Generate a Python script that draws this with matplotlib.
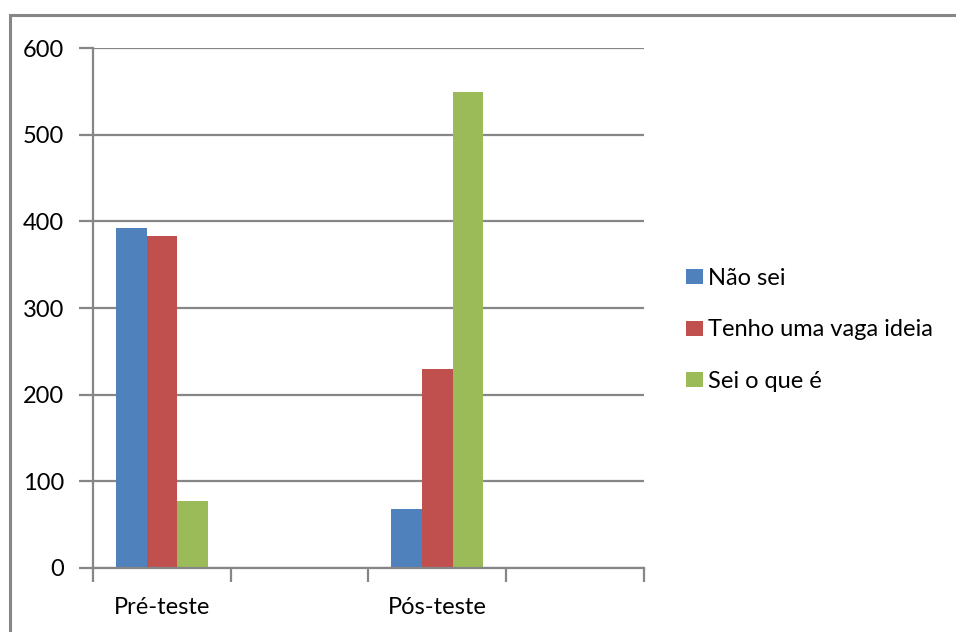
import numpy as np
import matplotlib
matplotlib.use('Agg')
import matplotlib.pyplot as plt
from matplotlib.patches import Rectangle, Patch

plt.rcParams['font.family'] = ['Lato', 'DejaVu Sans']

# category slots on the x axis (two of them are left empty)
categorias = ['Pré-teste', '', 'Pós-teste', '']
series = ['Não sei', 'Tenho uma vaga ideia', 'Sei o que é']
nao_sei = [392, np.nan, 68, np.nan]
vaga_ideia = [383, np.nan, 229, np.nan]
sei_o_que_e = [77, np.nan, 550, np.nan]
cores = ['#4F81BD', '#C0504D', '#9BBB59']
yticks = [0, 100, 200, 300, 400, 500, 600]

cinza = '#868686'
fs = 17

fig = plt.figure(figsize=(9.56, 6.32), dpi=100)
ax = fig.add_axes([0.0973, 0.1017, 0.5763, 0.8219])

x = np.arange(len(categorias))
w = 1 / 4.5
for i, (vals, cor) in enumerate(zip([nao_sei, vaga_ideia, sei_o_que_e], cores)):
    ax.bar(x + (i - 1) * w, vals, w, color=cor, label=series[i], zorder=3)

ax.set_xlim(-0.5, len(categorias) - 0.5)
ax.set_ylim(0, 600)
ax.set_yticks(yticks)
ax.yaxis.grid(True, color=cinza, linewidth=1.6, zorder=0)
ax.set_axisbelow(True)

# category labels in the middle, tick marks on the slot borders
ax.set_xticks(x)
ax.set_xticklabels(categorias)
ax.set_xticks(np.arange(len(categorias) + 1) - 0.5, minor=True)
ax.tick_params(axis='x', which='major', length=0, pad=21, labelsize=fs)
ax.tick_params(axis='x', which='minor', length=10, width=1.6, color=cinza)
ax.tick_params(axis='y', length=10, width=1.6, color=cinza, pad=11, labelsize=fs)

for s in ['top', 'right']:
    ax.spines[s].set_visible(False)
for s in ['left', 'bottom']:
    ax.spines[s].set_color(cinza)
    ax.spines[s].set_linewidth(1.6)
ax.spines['left'].set_zorder(4)
ax.spines['bottom'].set_zorder(4)

handles = [Patch(facecolor=c, edgecolor='none') for c in cores]
fig.legend(handles, series, loc='center left', bbox_to_anchor=(0.7176, 0.478),
           frameon=False, fontsize=fs, handlelength=0.72, handleheight=0.6,
           handletextpad=0.21, labelspacing=1.28, borderaxespad=0, borderpad=0)

# outer chart border
fig.patches.append(Rectangle((10 / 956, -0.1), 1.2, (632 - 15) / 632 + 0.1,
                             transform=fig.transFigure, fill=False,
                             edgecolor=cinza, linewidth=2.2))

fig.savefig('out.png', dpi=100)
